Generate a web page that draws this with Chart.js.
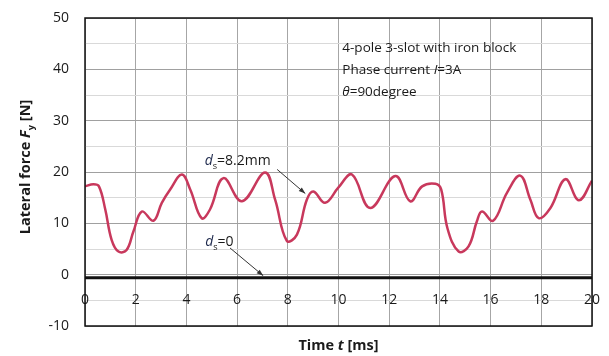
<!DOCTYPE html>
<html>
<head>
<meta charset="utf-8">
<script src="https://cdn.jsdelivr.net/npm/chart.js@4.4.0/dist/chart.umd.min.js"></script>
<style>
  html, body { margin: 0; padding: 0; background: #fff; }
  canvas { display: block; }
</style>
</head>
<body>
<canvas id="forceChart" width="609" height="356"></canvas>
<script>
// d_s = 8.2 mm curve
const timeMs = [0, 0.33, 0.55, 0.8, 1.05, 1.32, 1.64, 1.91, 2.24, 2.7, 3.03, 3.36, 3.82, 4.15, 4.6, 4.93,
  5.46, 6.19, 7.1, 7.5, 7.96, 8.36, 8.75, 9.01, 9.47, 10.0, 10.53, 11.25, 12.24, 12.83, 13.3, 13.82,
  14.05, 14.3, 14.74, 15.13, 15.46, 15.66, 16.1, 16.65, 17.17, 17.57, 17.9, 18.36, 18.95, 19.48, 20];
const forceDs82 = [17.2, 17.6, 17.2, 12.7, 6.8, 4.5, 4.8, 8.4, 12.3, 10.5, 14.0, 16.6, 19.5, 16.6, 11.0, 12.7,
  18.8, 14.3, 19.9, 14.6, 6.6, 7.8, 14.6, 16.2, 14.0, 17.0, 19.5, 13.0, 19.2, 14.3, 17.2, 17.7,
  16.6, 9.0, 4.5, 5.5, 10.4, 12.3, 10.5, 16.0, 19.3, 14.6, 11.0, 13.0, 18.6, 14.5, 18.3];

// d_s = 0 curve
const timeDs0 = [0, 20];
const forceDs0 = [-0.6, -0.6];

const xTickLabels = [0, 2, 4, 6, 8, 10, 12, 14, 16, 18, 20];
const yTickLabels = [-10, 0, 10, 20, 30, 40, 50];

const FONT = '"Open Sans", sans-serif';
const TEXT = '#1a1a1a';

function richWidth(ctx, parts, size) {
  let w = 0;
  parts.forEach(p => {
    const s = p.sub ? size * 0.65 : size;
    ctx.font = (p.italic ? 'italic ' : '') + (p.bold ? 'bold ' : '') + s + 'px ' + FONT;
    w += ctx.measureText(p.t).width;
  });
  return w;
}

function drawRich(ctx, parts, x, y, size) {
  let cx = x;
  parts.forEach(p => {
    const s = p.sub ? size * 0.65 : size;
    ctx.font = (p.italic ? 'italic ' : '') + (p.bold ? 'bold ' : '') + s + 'px ' + FONT;
    ctx.fillStyle = p.color || TEXT;
    ctx.fillText(p.t, cx, y + (p.sub ? size * 0.28 : 0));
    cx += ctx.measureText(p.t).width;
  });
}

function arrow(ctx, x1, y1, x2, y2) {
  const a = Math.atan2(y2 - y1, x2 - x1);
  ctx.strokeStyle = '#333';
  ctx.fillStyle = '#333';
  ctx.lineWidth = 1;
  ctx.beginPath();
  ctx.moveTo(x1, y1);
  ctx.lineTo(x2, y2);
  ctx.stroke();
  ctx.beginPath();
  ctx.moveTo(x2, y2);
  ctx.lineTo(x2 - 7 * Math.cos(a - 0.35), y2 - 7 * Math.sin(a - 0.35));
  ctx.lineTo(x2 - 7 * Math.cos(a + 0.35), y2 - 7 * Math.sin(a + 0.35));
  ctx.closePath();
  ctx.fill();
}

const decorPlugin = {
  id: 'decor',
  afterDraw(chart) {
    const { ctx, chartArea: ca, scales } = chart;
    const px = t => scales.x.getPixelForValue(t);
    const py = v => scales.y.getPixelForValue(v);
    ctx.save();

    // plot frame
    ctx.strokeStyle = '#111';
    ctx.lineWidth = 1.5;
    ctx.strokeRect(ca.left, ca.top, ca.right - ca.left, ca.bottom - ca.top);

    ctx.textBaseline = 'alphabetic';
    // info box
    const info = [
      [{ t: '4-pole 3-slot with iron block' }],
      [{ t: 'Phase current ' }, { t: 'I', italic: true }, { t: '=3A' }],
      [{ t: 'θ', italic: true }, { t: '=90degree' }]
    ];
    const infoY = [43.4, 39.0, 34.8];
    info.forEach((line, i) => drawRich(ctx, line, px(10.15), py(infoY[i]), 13.5));

    // curve labels
    drawRich(ctx, [{ t: 'd', italic: true, color: '#1f2a4d' }, { t: 's', sub: true }, { t: '=8.2mm' }], px(4.72), py(21.4), 14);
    drawRich(ctx, [{ t: 'd', italic: true, color: '#1f2a4d' }, { t: 's', sub: true }, { t: '=0' }], px(4.74), py(5.6), 14);
    arrow(ctx, px(7.58), py(20.5), px(8.69), py(15.8));
    arrow(ctx, px(5.72), py(5.2), px(7.03), py(-0.2));

    // x title
    const xt = [{ t: 'Time ', bold: true }, { t: 't', bold: true, italic: true }, { t: ' [ms]', bold: true }];
    drawRich(ctx, xt, (ca.left + ca.right) / 2 - richWidth(ctx, xt, 14.5) / 2, 350, 14.5);

    // y title
    const yt = [{ t: 'Lateral force ', bold: true }, { t: 'F', bold: true, italic: true }, { t: 'y', bold: true, sub: true }, { t: ' [N]', bold: true }];
    ctx.translate(30, (ca.top + ca.bottom) / 2 - 5);
    ctx.rotate(-Math.PI / 2);
    drawRich(ctx, yt, -richWidth(ctx, yt, 14.5) / 2, 0, 14.5);
    ctx.restore();
  }
};

new Chart(document.getElementById('forceChart'), {
  type: 'line',
  data: {
    datasets: [
      {
        label: 'ds=8.2mm',
        data: timeMs.map((t, i) => ({ x: t, y: forceDs82[i] })),
        borderColor: 'rgb(200, 56, 92)',
        borderWidth: 2.5,
        pointRadius: 0,
        tension: 0.4
      },
      {
        label: 'ds=0',
        data: timeDs0.map((t, i) => ({ x: t, y: forceDs0[i] })),
        borderColor: '#111',
        borderWidth: 3,
        pointRadius: 0
      }
    ]
  },
  options: {
    responsive: false,
    animation: false,
    layout: { padding: { left: 35, right: 17, top: 18, bottom: 30 } },
    plugins: { legend: { display: false }, tooltip: { enabled: false } },
    scales: {
      x: {
        type: 'linear',
        min: 0,
        max: 20,
        position: { y: 0 },
        ticks: {
          stepSize: 2,
          autoSkip: false,
          maxRotation: 0,
          padding: 2,
          color: TEXT,
          font: { family: FONT, size: 14 },
          callback: v => xTickLabels.includes(v) ? String(v) : ''
        },
        grid: { color: '#a6a6a6', lineWidth: 1, tickLength: 15, tickColor: 'rgba(0,0,0,0)' },
        border: { display: false }
      },
      y: {
        min: -10,
        max: 50,
        ticks: {
          stepSize: 5,
          padding: 2,
          color: TEXT,
          font: { family: FONT, size: 14 },
          callback: v => yTickLabels.includes(v) ? String(v) : ''
        },
        grid: {
          color: c => c.tick && c.tick.value % 10 === 0 ? '#a0a0a0' : '#d9d9d9',
          lineWidth: 1,
          tickLength: 14,
          tickColor: 'rgba(0,0,0,0)'
        },
        border: { display: false },
        afterFit(scale) { scale.width = 50; }
      }
    }
  },
  plugins: [decorPlugin]
});
</script>
</body>
</html>
